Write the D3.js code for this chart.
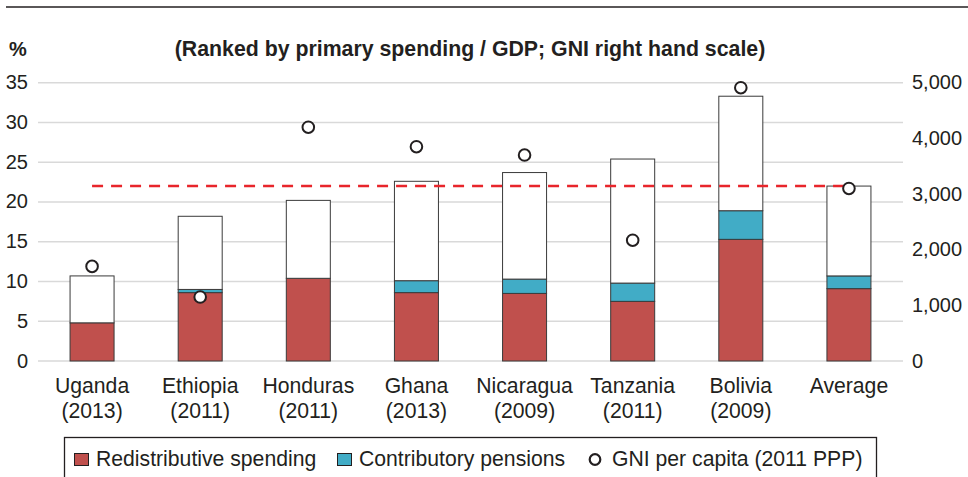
<!DOCTYPE html>
<html>
<head>
<meta charset="utf-8">
<script src="https://cdn.jsdelivr.net/npm/d3@7"></script>
<style>
  html, body { margin: 0; padding: 0; background: #fff; }
  svg text { font-family: "Liberation Sans", Arial, Helvetica, sans-serif; fill: #231f20; }
</style>
</head>
<body>
<svg id="chart" width="968" height="477"></svg>
<script>
// Countries (with survey year) ranked by primary spending / GDP
const categories = ["Uganda", "Ethiopia", "Honduras", "Ghana", "Nicaragua", "Tanzania", "Bolivia", "Average"];
const years = ["(2013)", "(2011)", "(2011)", "(2013)", "(2009)", "(2011)", "(2009)", ""];

// Percent of GDP
const redistributive = [4.8, 8.6, 10.4, 8.6, 8.5, 7.5, 15.3, 9.1];
const pensions = [0, 0.4, 0, 1.5, 1.8, 2.3, 3.6, 1.6];
const primarySpending = [10.7, 18.2, 20.2, 22.6, 23.7, 25.4, 33.3, 22.0];

// GNI per capita, 2011 PPP (right-hand scale)
const gni = [1700, 1150, 4200, 3850, 3700, 2170, 4910, 3100];

// Average primary spending, drawn as a dashed reference line
const averagePrimary = 22.0;

const leftTicks = [0, 5, 10, 15, 20, 25, 30, 35];
const rightTicks = [0, 1000, 2000, 3000, 4000, 5000];

const legendItems = ["Redistributive spending", "Contributory pensions", "GNI per capita (2011 PPP)"];

const colors = { red: "#c0504d", blue: "#41acc6", grid: "#d9d9d9", dash: "#e8252b", ink: "#231f20" };

const svg = d3.select("#chart");

const plotLeft = 38, plotRight = 903, plotTop = 82.7, plotBottom = 361;

const x = d3.scaleBand()
  .domain(categories)
  .range([plotLeft, plotRight])
  .paddingInner(0.593)
  .paddingOuter(0.2965);

const y = d3.scaleLinear().domain([0, 35]).range([plotBottom, plotTop]);
const yRight = d3.scaleLinear().domain([0, 5000]).range([plotBottom, plotTop]);

// Top rule
svg.append("line")
  .attr("x1", 6).attr("x2", 968).attr("y1", 7).attr("y2", 7)
  .attr("stroke", colors.ink).attr("stroke-width", 1.5);

// Unit and subtitle
svg.append("text").attr("x", 9).attr("y", 56)
  .attr("font-size", 20).attr("font-weight", "bold").text("%");
svg.append("text").attr("x", 470).attr("y", 56)
  .attr("text-anchor", "middle").attr("font-size", 21.3).attr("font-weight", "bold")
  .text("(Ranked by primary spending / GDP; GNI right hand scale)");

// Gridlines
svg.append("g").selectAll("line").data(leftTicks).join("line")
  .attr("x1", plotLeft).attr("x2", plotRight)
  .attr("y1", d => y(d)).attr("y2", d => y(d))
  .attr("stroke", colors.grid).attr("stroke-width", 1.5);

// Left axis
const leftAxis = svg.append("g")
  .attr("transform", `translate(${plotLeft - 10},0)`)
  .call(d3.axisLeft(y).tickValues(leftTicks).tickSize(0).tickPadding(0));
leftAxis.select(".domain").remove();
leftAxis.selectAll("text").attr("font-size", 20).attr("fill", colors.ink)
  .attr("font-family", "Liberation Sans, Arial, sans-serif").attr("dy", "0.3em");

// Right axis
const rightAxis = svg.append("g")
  .attr("transform", `translate(${plotRight + 9},0)`)
  .call(d3.axisRight(yRight).tickValues(rightTicks).tickSize(0).tickPadding(0)
    .tickFormat(d3.format(",")));
rightAxis.select(".domain").remove();
rightAxis.selectAll("text").attr("font-size", 20).attr("fill", colors.ink)
  .attr("font-family", "Liberation Sans, Arial, sans-serif").attr("dy", "0.3em");

// Stacked bars: redistributive, contributory pensions, remainder of primary spending
const rows = categories.map((c, i) => ({
  c,
  segs: [
    { y0: 0, y1: redistributive[i], fill: colors.red },
    { y0: redistributive[i], y1: redistributive[i] + pensions[i], fill: colors.blue },
    { y0: redistributive[i] + pensions[i], y1: primarySpending[i], fill: "#ffffff" }
  ].filter(s => s.y1 > s.y0)
}));

svg.append("g").selectAll("g").data(rows).join("g")
  .selectAll("rect").data(d => d.segs.map(s => ({ ...s, c: d.c }))).join("rect")
  .attr("x", d => x(d.c))
  .attr("width", x.bandwidth())
  .attr("y", d => y(d.y1))
  .attr("height", d => y(d.y0) - y(d.y1))
  .attr("fill", d => d.fill)
  .attr("stroke", "#3a3a3a").attr("stroke-width", 1);

// Average primary spending line
svg.append("line")
  .attr("x1", x(categories[0]) + x.bandwidth() / 2)
  .attr("x2", x(categories[categories.length - 1]) + x.bandwidth() / 2)
  .attr("y1", y(averagePrimary)).attr("y2", y(averagePrimary))
  .attr("stroke", colors.dash).attr("stroke-width", 2.6)
  .attr("stroke-dasharray", "11 8");

// GNI markers
svg.append("g").selectAll("circle").data(categories).join("circle")
  .attr("cx", d => x(d) + x.bandwidth() / 2)
  .attr("cy", (d, i) => yRight(gni[i]))
  .attr("r", 5.8)
  .attr("fill", "#fff").attr("stroke", colors.ink).attr("stroke-width", 2);

// Category labels
const xl = svg.append("g").selectAll("text").data(categories).join("text")
  .attr("text-anchor", "middle").attr("font-size", 21.2)
  .attr("x", d => x(d) + x.bandwidth() / 2).attr("y", 393);
xl.append("tspan").text(d => d);
xl.append("tspan").attr("x", d => x(d) + x.bandwidth() / 2).attr("dy", 25)
  .text((d, i) => years[i]);

// Legend
const legend = svg.append("g");
legend.append("rect").attr("x", 64.5).attr("y", 437.5).attr("width", 812).attr("height", 60)
  .attr("fill", "none").attr("stroke", colors.ink).attr("stroke-width", 1.3);

const legendX = [74, 337, 589];
legendItems.forEach((label, i) => {
  const g = legend.append("g").attr("transform", `translate(${legendX[i]},0)`);
  if (i < 2) {
    g.append("rect").attr("x", 0.5).attr("y", 453.5).attr("width", 14).attr("height", 12)
      .attr("fill", i === 0 ? colors.red : colors.blue).attr("stroke", colors.ink).attr("stroke-width", 1);
  } else {
    g.append("circle").attr("cx", 6).attr("cy", 459.5).attr("r", 5.3)
      .attr("fill", "#fff").attr("stroke", colors.ink).attr("stroke-width", 2.2);
  }
  g.append("text").attr("x", i < 2 ? 22 : 23).attr("y", 466).attr("font-size", 21.2).text(label);
});
</script>
</body>
</html>
